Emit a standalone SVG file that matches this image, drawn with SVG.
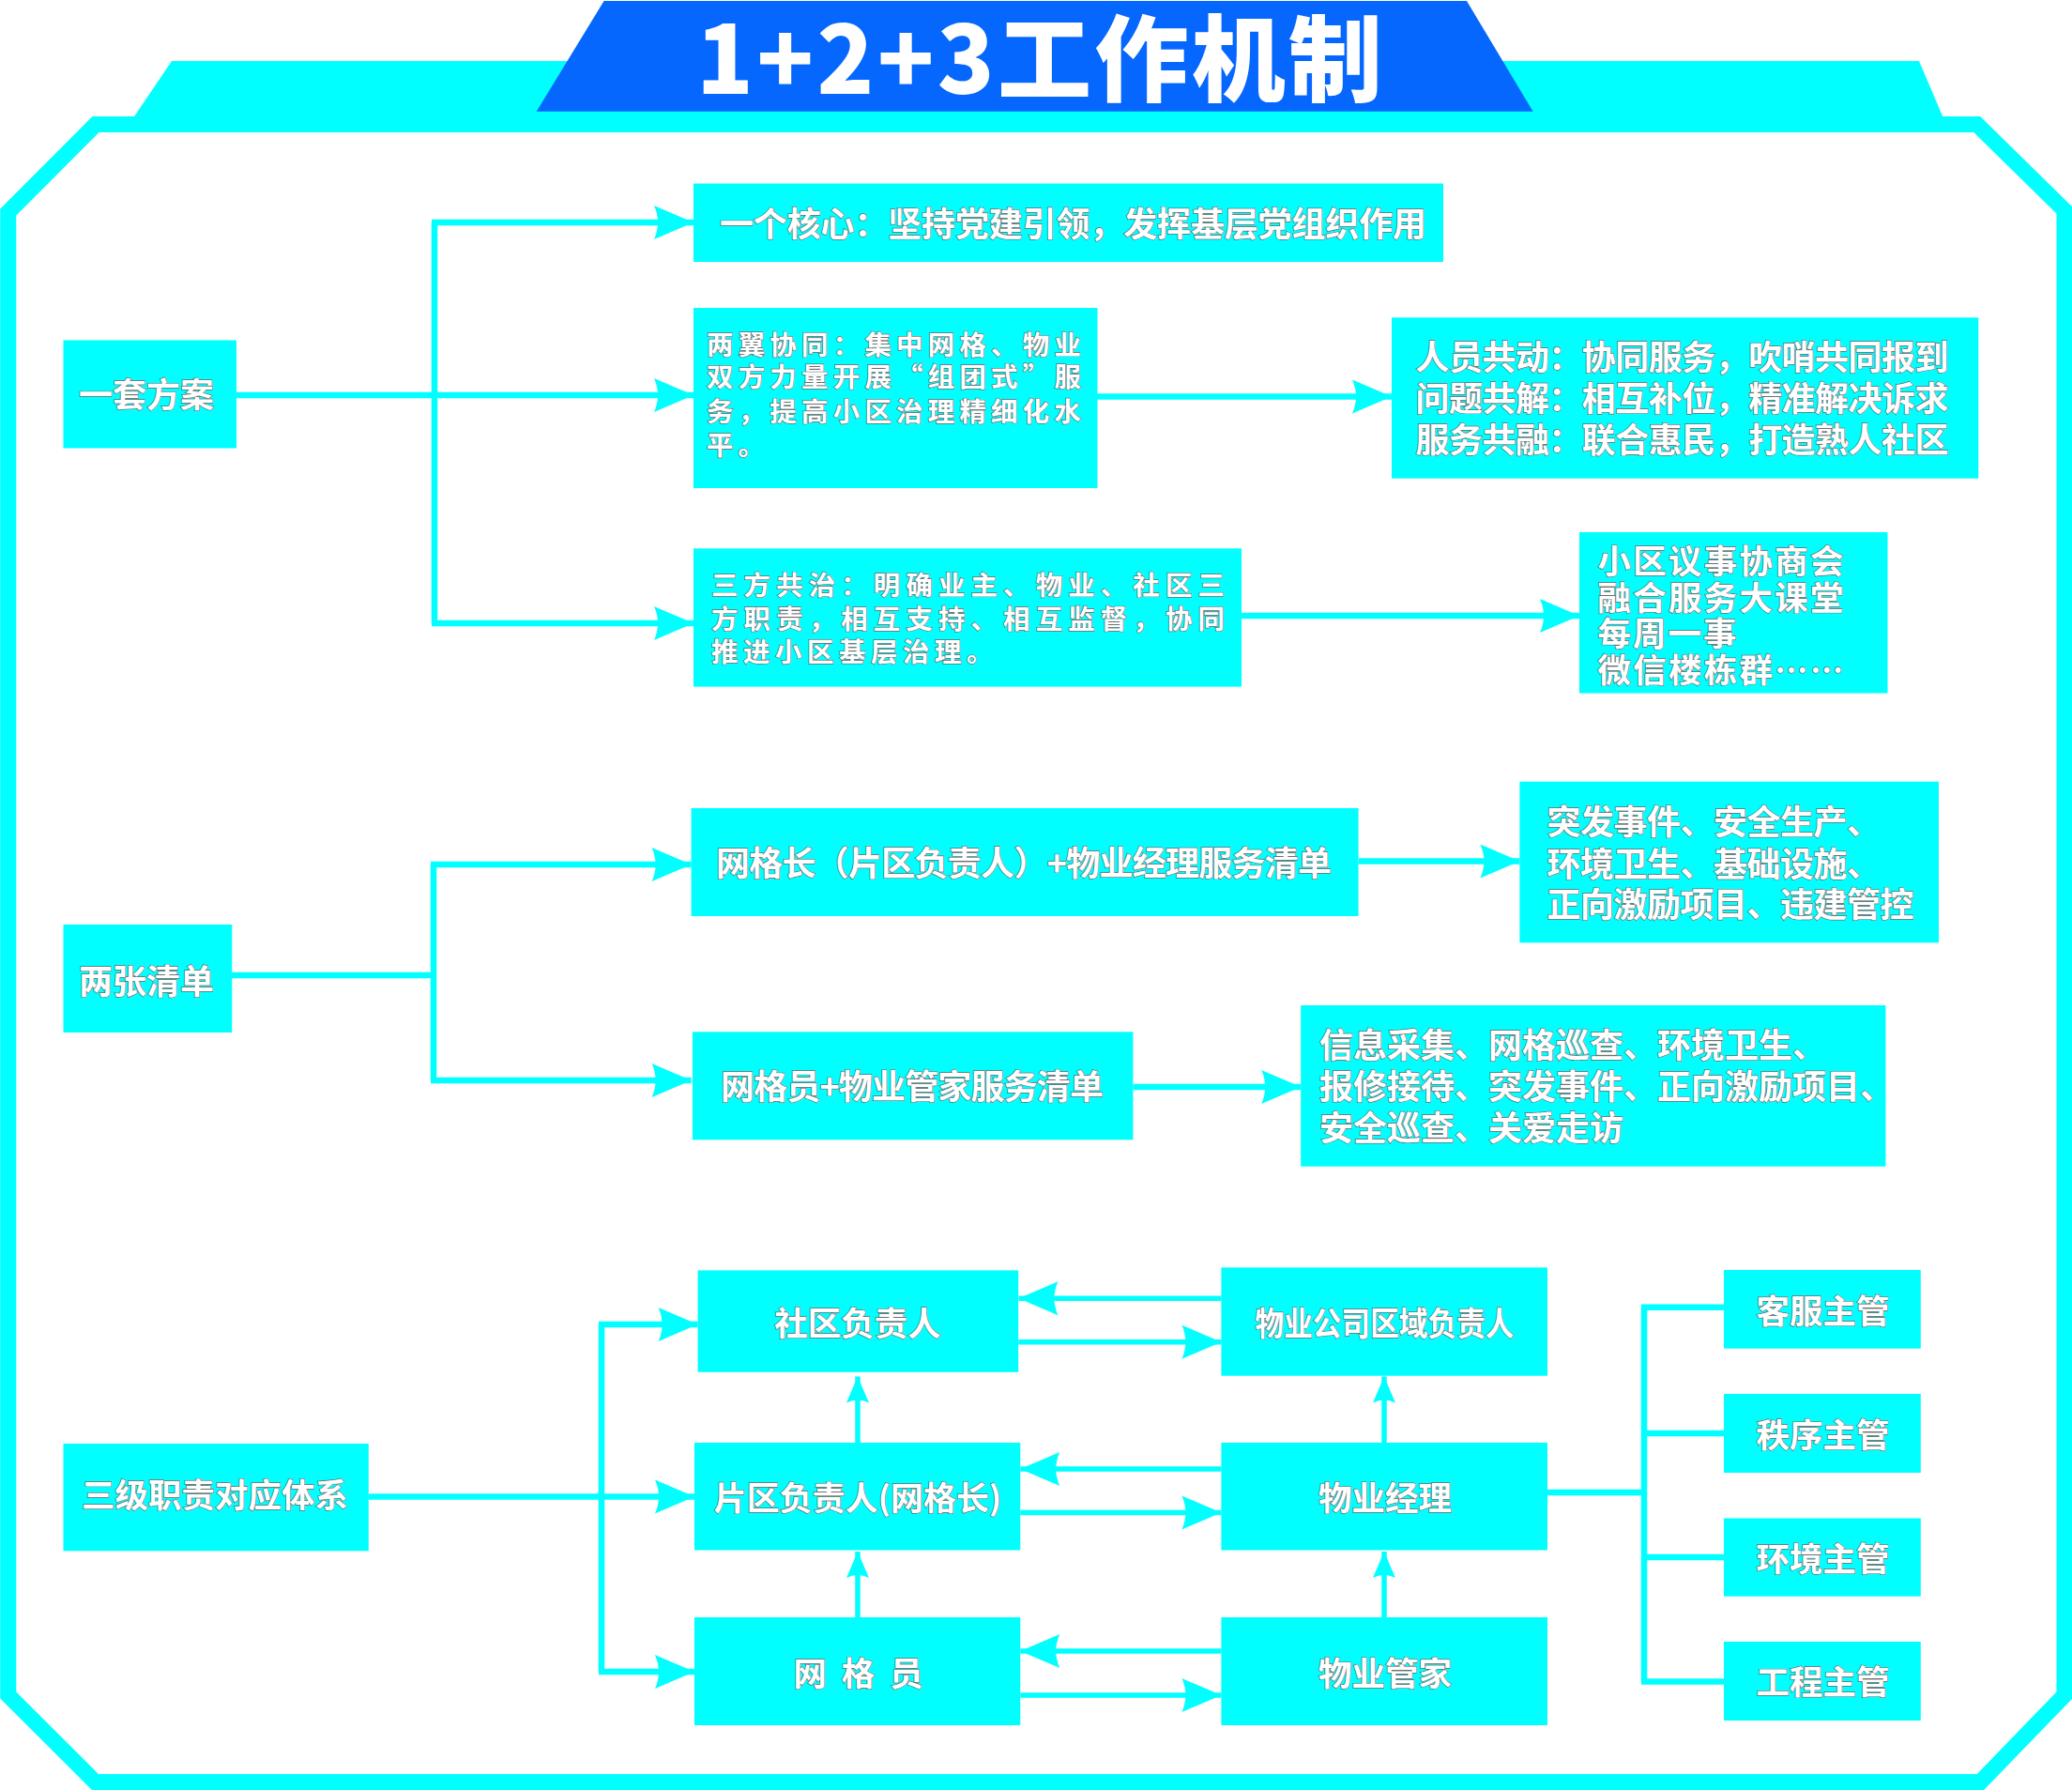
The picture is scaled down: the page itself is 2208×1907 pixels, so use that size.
<svg xmlns="http://www.w3.org/2000/svg" width="2208" height="1907" viewBox="0 0 2208 1907">
<defs>
<style>
.box{fill:#00FFFF;}
.tx{font-family:"Noto Sans CJK SC","Liberation Sans",sans-serif;font-weight:700;fill:#FFFFFF;stroke:#6E6E6E;stroke-width:1.3px;paint-order:stroke fill;font-size:36px;}
.sm{font-size:28.5px;}
.mid{text-anchor:middle;}
.ln{fill:none;stroke:#00FFFF;stroke-width:6.5;}
.lt{fill:none;stroke:#00FFFF;stroke-width:5.5;}
.big{marker-end:url(#ab);}
.small{marker-end:url(#as);}
.title{font-family:"Noto Sans CJK SC","Liberation Sans",sans-serif;font-weight:900;fill:#FFFFFF;font-size:100px;}
</style>
<marker id="ab" markerUnits="userSpaceOnUse" markerWidth="42" markerHeight="36" refX="42" refY="18" orient="auto" overflow="visible">
<path d="M42,18 L0,0 Q8,18 0,36 Z" fill="#00FFFF"/>
</marker>
<marker id="as" markerUnits="userSpaceOnUse" markerWidth="28" markerHeight="24" refX="28" refY="12" orient="auto" overflow="visible">
<path d="M28,12 L0,0 Q6,12 0,24 Z" fill="#00FFFF"/>
</marker>
</defs>
<rect x="0" y="0" width="2208" height="1907" fill="#FFFFFF"/>
<g id="frame">
<polygon points="183,65 2045,65 2074,133 137,133" fill="#00FFFF"/>
<path d="M102,132.5 L2106.7,132.5 L2200,224 L2200,1806 L2110.5,1898.5 L101.5,1898.5 L8.75,1806 L8.75,226 Z" fill="none" stroke="#00FFFF" stroke-width="17"/>
</g>
<g id="header">
<polygon points="643.6,1 1563,1 1633.6,118.7 571.7,118.7" fill="#0567FE"/>
<text class="title" x="742" y="100" textLength="731">1+2+3工作机制</text>
</g>
<g id="connectors">
<path class="ln" d="M463,237 V664"/>
<path class="ln big" d="M460,237 H739"/>
<path class="ln big" d="M252,421 H739"/>
<path class="ln big" d="M460,664 H739"/>
<path class="ln big" d="M1169,422.6 H1483"/>
<path class="ln big" d="M1322.6,656 H1683"/>
<path class="ln" d="M247,1039 H462"/>
<path class="ln" d="M462,921 V1151"/>
<path class="ln big" d="M459,921 H736.6"/>
<path class="ln big" d="M459,1151 H736.6"/>
<path class="ln big" d="M1447.7,917.5 H1619.4"/>
<path class="ln big" d="M1207.4,1158 H1386.2"/>
<path class="ln big" d="M392.8,1594.5 H740"/>
<path class="ln" d="M641,1411 V1781"/>
<path class="ln big" d="M638,1411 H743.6"/>
<path class="ln big" d="M638,1781 H740"/>
<path class="lt small" d="M914,1537 V1466.5"/>
<path class="lt small" d="M914,1723 V1653"/>
<path class="lt small" d="M1475,1537 V1466.5"/>
<path class="lt small" d="M1475,1723 V1653"/>
<path class="lt big" d="M1301.4,1383.3 H1085.5"/>
<path class="lt big" d="M1085.2,1429.7 H1301.4"/>
<path class="lt big" d="M1301.4,1565 H1087.3"/>
<path class="lt big" d="M1087.3,1611.5 H1301.4"/>
<path class="lt big" d="M1301.4,1759 H1087.3"/>
<path class="lt big" d="M1087.3,1806 H1301.4"/>
<path class="ln" d="M1649,1590 H1752"/>
<path class="ln" d="M1752,1392.7 V1791.5"/>
<path class="ln" d="M1749,1392.7 H1837"/>
<path class="ln" d="M1749,1527 H1837"/>
<path class="ln" d="M1749,1659 H1837"/>
<path class="ln" d="M1749,1791.5 H1837"/>
</g>
<g id="n-yitaofangan">
<rect class="box" x="67.5" y="362.5" width="184.5" height="115"/>
<text class="tx mid" x="156" y="434">一套方案</text>
</g>
<g id="n-hexin">
<rect class="box" x="739" y="195.5" width="799" height="83.5"/>
<text class="tx" x="767" y="252.2" textLength="753">一个核心：坚持党建引领，发挥基层党组织作用</text>
</g>
<g id="n-liangyi">
<rect class="box" x="739" y="328" width="430.5" height="192"/>
<text class="tx sm" x="753" y="377.6" textLength="399">两翼协同：集中网格、物业</text>
<text class="tx sm" x="753" y="412" textLength="399">双方力量开展“组团式”服</text>
<text class="tx sm" x="753" y="448.6" textLength="399">务，提高小区治理精细化水</text>
<text class="tx sm" x="753" y="485" letter-spacing="5">平。</text>
</g>
<g id="n-sanfang">
<rect class="box" x="739" y="584.3" width="584" height="147.3"/>
<text class="tx sm" x="758" y="633.6" textLength="547">三方共治：明确业主、物业、社区三</text>
<text class="tx sm" x="758" y="669.6" textLength="547">方职责，相互支持、相互监督，协同</text>
<text class="tx sm" x="758" y="705" letter-spacing="5.5">推进小区基层治理。</text>
</g>
<g id="n-renyuan">
<rect class="box" x="1483" y="338.3" width="625.3" height="171.4"/>
<text class="tx" x="1508.5" y="394.2" textLength="568">人员共动：协同服务，吹哨共同报到</text>
<text class="tx" x="1508.5" y="437.7" textLength="568">问题共解：相互补位，精准解决诉求</text>
<text class="tx" x="1508.5" y="482.2" textLength="568">服务共融：联合惠民，打造熟人社区</text>
</g>
<g id="n-xiaoqu">
<rect class="box" x="1683" y="567" width="328.5" height="171.5"/>
<text class="tx" x="1702.5" y="610.7" textLength="262" style="font-size:35.5px">小区议事协商会</text>
<text class="tx" x="1702.5" y="649.7" textLength="262" style="font-size:35.5px">融合服务大课堂</text>
<text class="tx" x="1702.5" y="687.7" letter-spacing="2" style="font-size:35.5px">每周一事</text>
<text class="tx" x="1702.5" y="726.7" textLength="262" style="font-size:35.5px">微信楼栋群……</text>
</g>
<g id="n-liangzhang">
<rect class="box" x="67.5" y="985" width="179.7" height="115"/>
<text class="tx mid" x="156" y="1058.7">两张清单</text>
</g>
<g id="n-wanggezhang">
<rect class="box" x="736.6" y="861" width="711" height="115"/>
<text class="tx" x="763" y="932.7" textLength="656">网格长（片区负责人）+物业经理服务清单</text>
</g>
<g id="n-wanggeyuan-list">
<rect class="box" x="738" y="1099.3" width="469.4" height="115"/>
<text class="tx" x="768" y="1170.7" textLength="408">网格员+物业管家服务清单</text>
</g>
<g id="n-tufa">
<rect class="box" x="1619.4" y="832.7" width="446.6" height="171.6"/>
<text class="tx" x="1648.5" y="888.7" letter-spacing="-0.5">突发事件、安全生产、</text>
<text class="tx" x="1648.5" y="933.7" letter-spacing="-0.5">环境卫生、基础设施、</text>
<text class="tx" x="1648.5" y="976.7" letter-spacing="-0.5">正向激励项目、违建管控</text>
</g>
<g id="n-xinxi">
<rect class="box" x="1386.2" y="1071" width="623.2" height="171.7"/>
<text class="tx" x="1406" y="1126.7">信息采集、网格巡查、环境卫生、</text>
<text class="tx" x="1406" y="1170.7">报修接待、突发事件、正向激励项目、</text>
<text class="tx" x="1406" y="1214.7">安全巡查、关爱走访</text>
</g>
<g id="n-sanji">
<rect class="box" x="67.5" y="1538" width="325.3" height="114.3"/>
<text class="tx mid" x="229" y="1606.4" style="font-size:35.5px">三级职责对应体系</text>
</g>
<g id="n-shequ">
<rect class="box" x="743.6" y="1353.4" width="341.6" height="108.4"/>
<text class="tx mid" x="914" y="1422.7" style="font-size:35.5px">社区负责人</text>
</g>
<g id="n-pianqu">
<rect class="box" x="740" y="1537" width="347.3" height="114.5"/>
<text class="tx mid" x="914" y="1608.7" style="font-size:35px">片区负责人(网格长)</text>
</g>
<g id="n-wanggeyuan">
<rect class="box" x="740" y="1723" width="347.3" height="115"/>
<text class="tx" x="845.5" y="1795.7" textLength="138" style="font-size:35.5px">网 格 员</text>
</g>
<g id="n-wuyegongsi">
<rect class="box" x="1301.4" y="1350.3" width="347.6" height="115.4"/>
<text class="tx mid" x="1475.5" y="1422.7" textLength="276" lengthAdjust="spacingAndGlyphs" style="font-size:35px">物业公司区域负责人</text>
</g>
<g id="n-wuyejingli">
<rect class="box" x="1301.4" y="1537" width="347.6" height="114.5"/>
<text class="tx mid" x="1476" y="1608.7" style="font-size:35.5px">物业经理</text>
</g>
<g id="n-wuyeguanjia">
<rect class="box" x="1301.4" y="1723" width="347.6" height="115"/>
<text class="tx mid" x="1476" y="1795.7" style="font-size:35.5px">物业管家</text>
</g>
<g id="n-kefu">
<rect class="box" x="1837" y="1353" width="209.8" height="83.7"/>
<text class="tx mid" x="1942.6" y="1409.7" style="font-size:35.5px">客服主管</text>
</g>
<g id="n-zhixu">
<rect class="box" x="1837" y="1485" width="209.8" height="84"/>
<text class="tx mid" x="1942.6" y="1541.7" style="font-size:35.5px">秩序主管</text>
</g>
<g id="n-huanjing">
<rect class="box" x="1837" y="1617.5" width="209.8" height="83.2"/>
<text class="tx mid" x="1942.6" y="1673.7" style="font-size:35.5px">环境主管</text>
</g>
<g id="n-gongcheng">
<rect class="box" x="1837" y="1749" width="209.8" height="84"/>
<text class="tx mid" x="1942.6" y="1805.2" style="font-size:35.5px">工程主管</text>
</g>
</svg>
